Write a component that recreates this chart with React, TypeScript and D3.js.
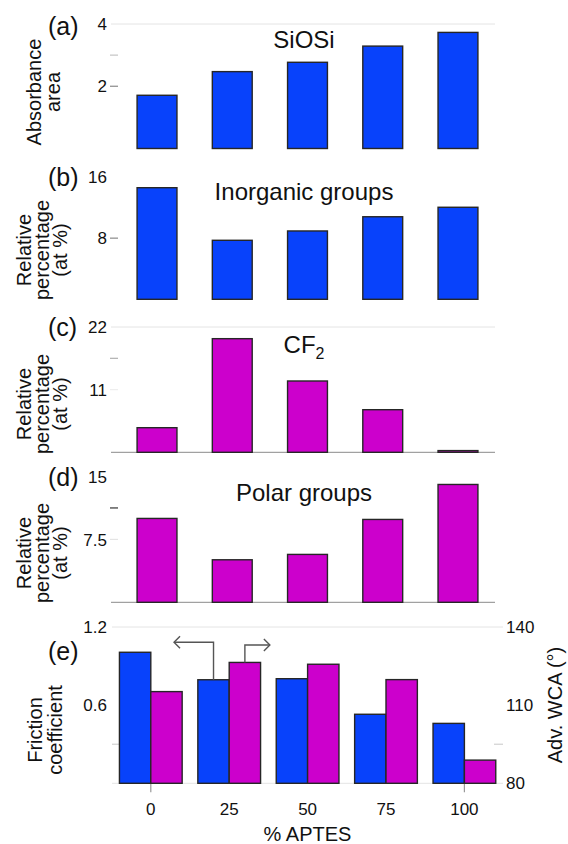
import React from "react";
import * as d3 from "d3";

// % APTES in the coating mixture
const aptesLevels = ["0", "25", "50", "75", "100"];

// (a) SiOSi absorbance band area
const siosiArea = [1.71, 2.47, 2.77, 3.29, 3.73];
const siosiTicks = [2, 4];
const siosiMinor = [3];

// (b) inorganic groups, at %
const inorganicPct = [14.6, 7.72, 8.94, 10.8, 12.04];
const inorganicTicks = [8, 16];

// (c) CF2, at %
const cf2Pct = [4.32, 19.95, 12.52, 7.48, 0.3];
const cf2Ticks = [11, 22];
const cf2Minor = [16.5];

// (d) polar groups, at %
const polarPct = [10.0, 5.07, 5.71, 9.88, 14.05];
const polarTicks = [7.5, 15];
const polarMinor = [11.25];

// (e) friction coefficient (left axis) and advancing water contact angle (right axis)
const frictionCoef = [1.006, 0.795, 0.803, 0.53, 0.46];
const advWca = [115.2, 126.4, 125.7, 119.8, 88.9];
const frictionTicks = [0.6, 1.2];
const wcaTicks = [80, 110, 140];

const BLUE = "#0842fb";
const MAGENTA = "#cc00cc";
const EDGE = "#262626";
const GRID = "#e4e4e4";
const FONT = "'Liberation Sans', Arial, sans-serif";
const TXT = "#111";

const W = 568;
const H = 844;
const X0 = 111;
const X1 = 495;

const xTop = d3
  .scaleBand<string>()
  .domain(aptesLevels)
  .range([119.4, 495.6])
  .paddingInner(0.47)
  .paddingOuter(0.235);

type PanelProps = {
  letter: string;
  letterY: number;
  values: number[];
  color: string;
  max: number;
  yBottom: number;
  yTop: number;
  ticks: number[];
  tickFmt: (v: number) => string;
  dashAt: number[];
  dashColor: string;
  minor: number[];
  minorColor: string;
  topGrid: boolean;
  baseline: boolean;
  title: React.ReactNode;
  titleY: number;
  axisLines: string[];
  axisBaselines: number[];
  axisCenterY: number;
};

function Panel(p: PanelProps) {
  const y = d3.scaleLinear().domain([0, p.max]).range([p.yBottom, p.yTop]);
  return (
    <g>
      <text x={48} y={p.letterY} fontSize={25} fill={TXT} fontFamily={FONT}>
        {p.letter}
      </text>
      {p.axisLines.map((t, i) => (
        <text
          key={t}
          transform={`translate(${p.axisBaselines[i]},${p.axisCenterY}) rotate(-90)`}
          textAnchor="middle"
          fontSize={20}
          fill={TXT}
          fontFamily={FONT}
        >
          {t}
        </text>
      ))}
      {p.topGrid && (
        <line x1={X0} x2={X1} y1={y(p.max)} y2={y(p.max)} stroke={GRID} strokeWidth={1} />
      )}
      {p.ticks.map((t) => (
        <text
          key={t}
          x={107}
          y={y(t)}
          dy="0.36em"
          textAnchor="end"
          fontSize={17}
          fill={TXT}
          fontFamily={FONT}
        >
          {p.tickFmt(t)}
        </text>
      ))}
      {p.dashAt.map((t) => (
        <line key={t} x1={110} x2={118} y1={y(t)} y2={y(t)} stroke={p.dashColor} strokeWidth={1.2} />
      ))}
      {p.minor.map((t) => (
        <line key={t} x1={110} x2={118} y1={y(t)} y2={y(t)} stroke={p.minorColor} strokeWidth={1.2} />
      ))}
      {p.baseline && (
        <line x1={X0} x2={X1} y1={y(0)} y2={y(0)} stroke="#8a8a8a" strokeWidth={1} />
      )}
      {p.values.map((v, i) => (
        <rect
          key={i}
          x={xTop(aptesLevels[i])}
          y={y(v)}
          width={xTop.bandwidth()}
          height={y(0) - y(v)}
          fill={p.color}
          stroke={EDGE}
          strokeWidth={1.4}
        />
      ))}
      <text
        x={304}
        y={p.titleY}
        textAnchor="middle"
        fontSize={24}
        fill={TXT}
        fontFamily={FONT}
      >
        {p.title}
      </text>
    </g>
  );
}

function FrictionPanel() {
  const x = d3
    .scaleBand<string>()
    .domain(aptesLevels)
    .range([111.6, 503.6])
    .paddingInner(0.2)
    .paddingOuter(0.1);
  const xs = d3
    .scaleBand<string>()
    .domain(["friction", "wca"])
    .range([0, x.bandwidth()]);
  const yL = d3.scaleLinear().domain([0, 1.2]).range([783.3, 627]);
  const yR = d3.scaleLinear().domain([80, 140]).range([783.3, 627]);
  const gx0 = 112;
  const gx1 = 503;

  // leader arrows from the 25 % APTES pair to their axes
  const lx = (x("25") ?? 0) + xs("friction")! + xs.bandwidth() / 2;
  const rx = (x("25") ?? 0) + xs("wca")! + xs.bandwidth() / 2;
  const lTop = yL(frictionCoef[1]);
  const rTop = yR(advWca[1]);
  const lY = 642.3;
  const rY = 645;
  const lEnd = lx - 39.5;
  const rEnd = rx + 25;
  const ah = 6;

  return (
    <g>
      <text x={48} y={660} fontSize={25} fill={TXT} fontFamily={FONT}>
        (e)
      </text>
      {["Friction", "coefficient"].map((t, i) => (
        <text
          key={t}
          transform={`translate(${[41.5, 61.5][i]},730) rotate(-90)`}
          textAnchor="middle"
          fontSize={20}
          fill={TXT}
          fontFamily={FONT}
        >
          {t}
        </text>
      ))}
      <text
        transform="translate(561.5,705) rotate(-90)"
        textAnchor="middle"
        fontSize={20}
        fill={TXT}
        fontFamily={FONT}
      >
        Adv. WCA (°)
      </text>
      <line x1={gx0} x2={gx1} y1={yL(1.2)} y2={yL(1.2)} stroke={GRID} />
      <line x1={gx0} x2={gx1} y1={yL(0)} y2={yL(0)} stroke={GRID} />
      <line x1={gx0} x2={gx0 + 8} y1={yL(0.3)} y2={yL(0.3)} stroke="#d0d0d0" strokeWidth={1.2} />
      <line x1={gx1 - 9} x2={gx1} y1={yL(0.3)} y2={yL(0.3)} stroke="#d0d0d0" strokeWidth={1.2} />
      {frictionTicks.map((t) => (
        <text key={t} x={107} y={yL(t)} dy="0.36em" textAnchor="end" fontSize={17} fill={TXT} fontFamily={FONT}>
          {t.toFixed(1)}
        </text>
      ))}
      {wcaTicks.map((t) => (
        <text key={t} x={506} y={yR(t)} dy="0.36em" textAnchor="start" fontSize={17} fill={TXT} fontFamily={FONT}>
          {t}
        </text>
      ))}
      {[aptesLevels[0], aptesLevels[4]].map((c) => {
        const cx = (x(c) ?? 0) + x.bandwidth() / 2;
        return <line key={c} x1={cx} x2={cx} y1={yL(0)} y2={yL(0) + 9} stroke="#999" strokeWidth={1.2} />;
      })}
      {aptesLevels.map((c, i) => {
        const gx = x(c) ?? 0;
        return (
          <g key={c}>
            <rect
              x={gx + xs("friction")!}
              y={yL(frictionCoef[i])}
              width={xs.bandwidth()}
              height={yL(0) - yL(frictionCoef[i])}
              fill={BLUE}
              stroke={EDGE}
              strokeWidth={1.4}
            />
            <rect
              x={gx + xs("wca")!}
              y={yR(advWca[i])}
              width={xs.bandwidth()}
              height={yR(80) - yR(advWca[i])}
              fill={MAGENTA}
              stroke={EDGE}
              strokeWidth={1.4}
            />
            <text
              x={gx + x.bandwidth() / 2}
              y={815}
              textAnchor="middle"
              fontSize={17}
              fill={TXT}
              fontFamily={FONT}
            >
              {c}
            </text>
          </g>
        );
      })}
      <text x={307.5} y={841} textAnchor="middle" fontSize={20} fill={TXT} fontFamily={FONT}>
        % APTES
      </text>
      <g fill="none" stroke="#555" strokeWidth={1.4}>
        <polyline points={`${lx},${lTop} ${lx},${lY} ${lEnd},${lY}`} />
        <polyline points={`${lEnd + ah},${lY - ah} ${lEnd},${lY} ${lEnd + ah},${lY + ah}`} />
        <polyline points={`${rx},${rTop} ${rx},${rY} ${rEnd},${rY}`} />
        <polyline points={`${rEnd - ah},${rY - ah} ${rEnd},${rY} ${rEnd - ah},${rY + ah}`} />
      </g>
    </g>
  );
}

export default function App() {
  const pctAxis = ["Relative", "percentage", "(at %)"];
  const pctBase = [30.5, 48.5, 67];
  return (
    <svg
      width={W}
      height={H}
      viewBox={`0 0 ${W} ${H}`}
      style={{ position: "absolute", left: 0, top: 0, background: "#fff" }}
    >
      <rect width={W} height={H} fill="#fff" />
      <Panel
        letter="(a)"
        letterY={35}
        values={siosiArea}
        color={BLUE}
        max={4}
        yBottom={148.5}
        yTop={24}
        ticks={siosiTicks}
        tickFmt={(v) => String(v)}
        dashAt={[2]}
        dashColor="#8a8a8a"
        minor={siosiMinor}
        minorColor="#c4c4c4"
        topGrid={true}
        baseline={false}
        title="SiOSi"
        titleY={48}
        axisLines={["Absorbance", "area"]}
        axisBaselines={[41, 60]}
        axisCenterY={92}
      />
      <Panel
        letter="(b)"
        letterY={186}
        values={inorganicPct}
        color={BLUE}
        max={16}
        yBottom={299.3}
        yTop={177}
        ticks={inorganicTicks}
        tickFmt={(v) => String(v)}
        dashAt={[8]}
        dashColor="#8a8a8a"
        minor={[]}
        minorColor="#c4c4c4"
        topGrid={false}
        baseline={false}
        title="Inorganic groups"
        titleY={200}
        axisLines={pctAxis}
        axisBaselines={pctBase}
        axisCenterY={250}
      />
      <Panel
        letter="(c)"
        letterY={336}
        values={cf2Pct}
        color={MAGENTA}
        max={22}
        yBottom={452.3}
        yTop={327}
        ticks={cf2Ticks}
        tickFmt={(v) => String(v)}
        dashAt={[11]}
        dashColor="#eeeeee"
        minor={cf2Minor}
        minorColor="#b0b0b0"
        topGrid={true}
        baseline={true}
        title={
          <>
            CF
            <tspan fontSize={16} dy={6}>
              2
            </tspan>
          </>
        }
        titleY={353}
        axisLines={pctAxis}
        axisBaselines={pctBase}
        axisCenterY={404}
      />
      <Panel
        letter="(d)"
        letterY={486}
        values={polarPct}
        color={MAGENTA}
        max={15}
        yBottom={602.3}
        yTop={476.5}
        ticks={polarTicks}
        tickFmt={(v) => String(v)}
        dashAt={[7.5]}
        dashColor="#e4e4e4"
        minor={polarMinor}
        minorColor="#333"
        topGrid={false}
        baseline={true}
        title="Polar groups"
        titleY={501}
        axisLines={pctAxis}
        axisBaselines={pctBase}
        axisCenterY={553}
      />
      <FrictionPanel />
    </svg>
  );
}
